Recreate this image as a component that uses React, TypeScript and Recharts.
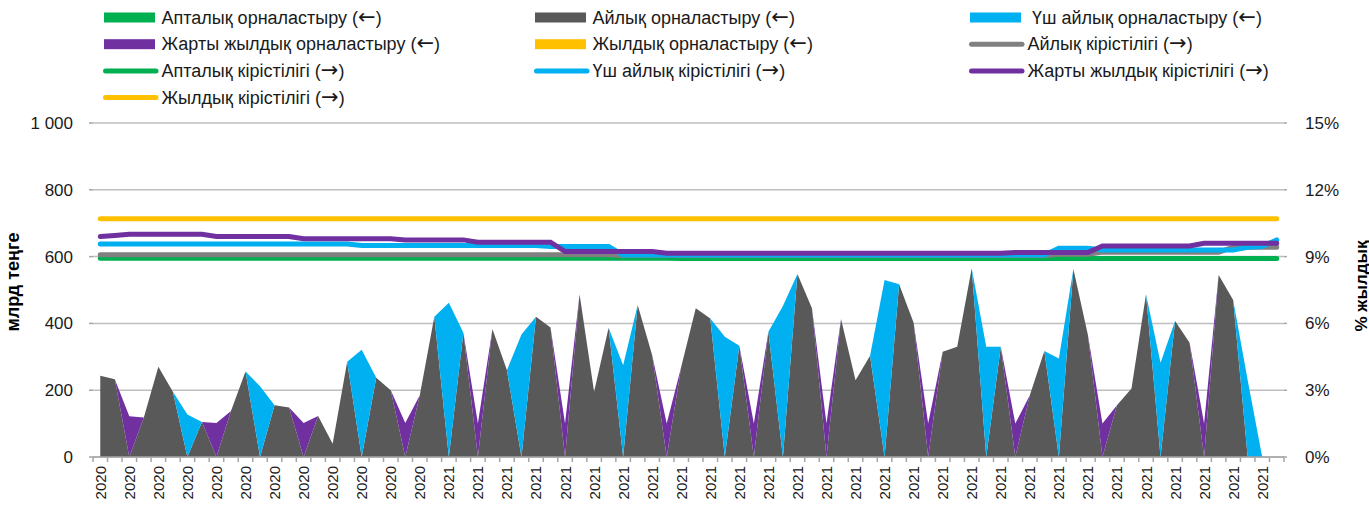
import React from 'react';
import { ComposedChart, Area, Line, XAxis, YAxis, CartesianGrid } from 'recharts';

const FONT = '"Liberation Sans", Arial, sans-serif';

// category labels (one per auction point)
const years = [
  '2020', '2020', '2020', '2020', '2020', '2020', '2020', '2020', '2020', '2020',
  '2020', '2020', '2020', '2020', '2020', '2020', '2020', '2020', '2020', '2020',
  '2020', '2020', '2020', '2020', '2021', '2021', '2021', '2021', '2021', '2021',
  '2021', '2021', '2021', '2021', '2021', '2021', '2021', '2021', '2021', '2021',
  '2021', '2021', '2021', '2021', '2021', '2021', '2021', '2021', '2021', '2021',
  '2021', '2021', '2021', '2021', '2021', '2021', '2021', '2021', '2021', '2021',
  '2021', '2021', '2021', '2021', '2021', '2021', '2021', '2021', '2021', '2021',
  '2021', '2021', '2021', '2021', '2021', '2021', '2021', '2021', '2021', '2021',
  '2021', '2021',
];

// placement volumes, bn tenge (left axis)
const weeklyPlacement = [
  0, 0, 0, 0, 0, 0, 0, 0, 0, 0, 0, 0, 0, 0, 0, 0, 0, 0, 0, 0, 0,
  0, 0, 0, 0, 0, 0, 0, 0, 0, 0, 0, 0, 0, 0, 0, 0, 0, 0, 0, 0,
  0, 0, 0, 0, 0, 0, 0, 0, 0, 0, 0, 0, 0, 0, 0, 0, 0, 0, 0, 0,
  0, 0, 0, 0, 0, 0, 0, 0, 0, 0, 0, 0, 0, 0, 0, 0, 0, 0, 0, 0,
];
const monthlyPlacement = [
  243, 233, 0, 118, 270, 195, 0, 105, 0, 138,
  256, 0, 155, 148, 0, 123, 40, 285, 0, 237,
  200, 0, 185, 420, 0, 372, 0, 383, 260, 0,
  420, 388, 0, 487, 195, 387, 0, 455, 305, 0,
  270, 445, 415, 0, 333, 0, 375, 0, 548, 445,
  0, 413, 230, 303, 0, 517, 402, 0, 315, 330,
  565, 0, 330, 0, 185, 317, 0, 563, 365, 0,
  155, 205, 487, 0, 407, 342, 0, 545, 470, 0,
  0, 0,
];
const threeMonthPlacement = [
  0, 0, 0, 0, 0, 0, 127, 0, 0, 0,
  0, 212, 0, 0, 0, 0, 0, 0, 321, 0,
  0, 0, 0, 0, 462, 0, 0, 0, 0, 367,
  0, 0, 0, 0, 0, 0, 275, 0, 0, 0,
  0, 0, 0, 360, 0, 0, 0, 452, 0, 0,
  0, 0, 0, 0, 530, 0, 0, 0, 0, 0,
  0, 330, 0, 0, 0, 0, 295, 0, 0, 0,
  0, 0, 0, 282, 0, 0, 0, 0, 0, 230,
  0, 0,
];
const halfYearPlacement = [
  0, 0, 122, 0, 0, 0, 0, 0, 102, 0,
  0, 0, 0, 0, 102, 0, 0, 0, 0, 0,
  0, 102, 0, 0, 0, 0, 100, 0, 0, 0,
  0, 0, 100, 0, 0, 0, 0, 0, 0, 100,
  0, 0, 0, 0, 0, 100, 0, 0, 0, 0,
  100, 0, 0, 0, 0, 0, 0, 100, 0, 0,
  0, 0, 0, 100, 0, 0, 0, 0, 0, 100,
  0, 0, 0, 0, 0, 0, 100, 0, 0, 0,
  0, 0,
];
const annualPlacement = [
  0, 0, 0, 0, 0, 0, 0, 0, 0, 0, 0, 0, 0, 0, 0, 0, 0, 0, 0, 0, 0,
  0, 0, 0, 0, 0, 0, 0, 0, 0, 0, 0, 0, 0, 0, 0, 0, 0, 0, 0, 0,
  0, 0, 0, 0, 0, 0, 0, 0, 0, 0, 0, 0, 0, 0, 0, 0, 0, 0, 0, 0,
  0, 0, 0, 0, 0, 0, 0, 0, 0, 0, 0, 0, 0, 0, 0, 0, 0, 0, 0, 0,
];

// yields, % (right axis)
const weeklyYield = [
  8.93, 8.93, 8.93, 8.93, 8.93, 8.93, 8.93, 8.93, 8.93, 8.93,
  8.93, 8.93, 8.93, 8.93, 8.93, 8.93, 8.93, 8.93, 8.93, 8.93,
  8.93, 8.93, 8.93, 8.93, 8.93, 8.93, 8.93, 8.93, 8.93, 8.93,
  8.93, 8.93, 8.93, 8.93, 8.93, 8.93, 8.93, 8.93, 8.93, 8.93,
  8.92, 8.92, 8.92, 8.92, 8.92, 8.92, 8.92, 8.92, 8.92, 8.92,
  8.92, 8.92, 8.92, 8.92, 8.92, 8.92, 8.92, 8.92, 8.92, 8.92,
  8.92, 8.92, 8.92, 8.92, 8.92, 8.92, 8.92, 8.92, 8.92, 8.92,
  8.92, 8.92, 8.92, 8.92, 8.92, 8.92, 8.92, 8.92, 8.92, 8.92,
  8.92, 8.92,
];
const monthlyYield = [
  9.08, 9.08, 9.08, 9.08, 9.08, 9.08, 9.08, 9.08, 9.08, 9.08,
  9.08, 9.08, 9.08, 9.08, 9.08, 9.08, 9.08, 9.08, 9.08, 9.08,
  9.08, 9.08, 9.08, 9.08, 9.08, 9.08, 9.08, 9.08, 9.08, 9.08,
  9.08, 9.08, 9.08, 9.08, 9.08, 9.08, 9.05, 9.05, 9.05, 9.05,
  9.05, 9.05, 9.05, 9.05, 9.05, 9.05, 9.05, 9.05, 9.05, 9.05,
  9.05, 9.05, 9.05, 9.05, 9.05, 9.05, 9.05, 9.05, 9.05, 9.05,
  9.05, 9.05, 9.05, 9.05, 9.05, 9.05, 9.1, 9.1, 9.1, 9.2,
  9.2, 9.2, 9.2, 9.2, 9.2, 9.2, 9.2, 9.2, 9.42, 9.42,
  9.42, 9.42,
];
const threeMonthYield = [
  9.57, 9.57, 9.57, 9.57, 9.57, 9.57, 9.57, 9.57, 9.57, 9.57,
  9.57, 9.57, 9.57, 9.57, 9.57, 9.57, 9.57, 9.57, 9.5, 9.5,
  9.5, 9.5, 9.5, 9.5, 9.5, 9.5, 9.5, 9.5, 9.5, 9.5,
  9.5, 9.45, 9.45, 9.45, 9.45, 9.45, 9.07, 9.07, 9.07, 9.07,
  9.07, 9.07, 9.07, 9.07, 9.07, 9.07, 9.07, 9.07, 9.07, 9.07,
  9.07, 9.07, 9.07, 9.07, 9.07, 9.07, 9.07, 9.07, 9.07, 9.07,
  9.07, 9.07, 9.07, 9.07, 9.07, 9.07, 9.38, 9.38, 9.38, 9.3,
  9.3, 9.3, 9.3, 9.3, 9.3, 9.3, 9.3, 9.3, 9.3, 9.42,
  9.45, 9.75,
];
const halfYearYield = [
  9.9, 9.95, 10.0, 10.0, 10.0, 10.0, 10.0, 10.0, 9.9, 9.9,
  9.9, 9.9, 9.9, 9.9, 9.8, 9.8, 9.8, 9.8, 9.8, 9.8,
  9.8, 9.75, 9.75, 9.75, 9.75, 9.75, 9.65, 9.65, 9.65, 9.65,
  9.65, 9.65, 9.23, 9.23, 9.23, 9.23, 9.23, 9.23, 9.23, 9.15,
  9.15, 9.15, 9.15, 9.15, 9.15, 9.15, 9.15, 9.15, 9.15, 9.15,
  9.15, 9.15, 9.15, 9.15, 9.15, 9.15, 9.15, 9.15, 9.15, 9.15,
  9.15, 9.15, 9.15, 9.18, 9.18, 9.18, 9.18, 9.18, 9.18, 9.48,
  9.48, 9.48, 9.48, 9.48, 9.48, 9.48, 9.6, 9.6, 9.6, 9.6,
  9.6, 9.6,
];
const annualYield = [
  10.7, 10.7, 10.7, 10.7, 10.7, 10.7, 10.7, 10.7, 10.7, 10.7,
  10.7, 10.7, 10.7, 10.7, 10.7, 10.7, 10.7, 10.7, 10.7, 10.7,
  10.7, 10.7, 10.7, 10.7, 10.7, 10.7, 10.7, 10.7, 10.7, 10.7,
  10.7, 10.7, 10.7, 10.7, 10.7, 10.7, 10.7, 10.7, 10.7, 10.7,
  10.7, 10.7, 10.7, 10.7, 10.7, 10.7, 10.7, 10.7, 10.7, 10.7,
  10.7, 10.7, 10.7, 10.7, 10.7, 10.7, 10.7, 10.7, 10.7, 10.7,
  10.7, 10.7, 10.7, 10.7, 10.7, 10.7, 10.7, 10.7, 10.7, 10.7,
  10.7, 10.7, 10.7, 10.7, 10.7, 10.7, 10.7, 10.7, 10.7, 10.7,
  10.7, 10.7,
];

const leftTicks = [0, 200, 400, 600, 800, 1000];
const rightTicks = [0, 3, 6, 9, 12, 15];

const data = years.map((year, i) => ({
  year,
  wkP: weeklyPlacement[i],
  moP: monthlyPlacement[i],
  q3P: threeMonthPlacement[i],
  hyP: halfYearPlacement[i],
  anP: annualPlacement[i],
  wkY: weeklyYield[i],
  moY: monthlyYield[i],
  q3Y: threeMonthYield[i],
  hyY: halfYearYield[i],
  anY: annualYield[i],
}));

const W = 1369;
const H = 506;
const LEFT_W = 93;
const RIGHT_W = 85;
const PLOT_W = W - LEFT_W - RIGHT_W;
const HALF = PLOT_W / years.length / 2;

const GREEN = '#00B050';
const DARK = '#595959';
const GREY = '#808080';
const CYAN = '#00B0F0';
const PURPLE = '#7030A0';
const YELLOW = '#FFC000';
const AXIS = '#A6A6A6';

const fmtThousands = (v: number) => String(v).replace(/\B(?=(\d{3})+(?!\d))/g, ' ');

const XTick = (props: any) => {
  const { x, y, index } = props;
  const ty = y + 9;
  return (
    <g>
      <line x1={x - HALF} x2={x - HALF} y1={y} y2={y + 5} stroke={AXIS} strokeWidth={1.5} />
      {index === years.length - 1 && (
        <line x1={x + HALF} x2={x + HALF} y1={y} y2={y + 5} stroke={AXIS} strokeWidth={1.5} />
      )}
      {index % 2 === 0 && (
        <text
          x={x}
          y={ty}
          transform={`rotate(-90 ${x} ${ty})`}
          textAnchor="end"
          dominantBaseline="central"
          fontSize={15}
          fontFamily={FONT}
          fill="#1a1a1a"
        >
          {years[index]}
        </text>
      )}
    </g>
  );
};

// legend: label text, arrow (axis side), colour, marker kind
const legendItems = [
  { label: 'Апталық орналастыру', arrow: '←', color: GREEN, kind: 'rect' },
  { label: 'Айлық орналастыру', arrow: '←', color: DARK, kind: 'rect' },
  { label: 'Үш айлық орналастыру', arrow: '←', color: CYAN, kind: 'rect' },
  { label: 'Жарты жылдық орналастыру', arrow: '←', color: PURPLE, kind: 'rect' },
  { label: 'Жылдық орналастыру', arrow: '←', color: YELLOW, kind: 'rect' },
  { label: 'Айлық кірістілігі', arrow: '→', color: GREY, kind: 'line' },
  { label: 'Апталық кірістілігі', arrow: '→', color: GREEN, kind: 'line' },
  { label: 'Үш айлық кірістілігі', arrow: '→', color: CYAN, kind: 'line' },
  { label: 'Жарты жылдық кірістілігі', arrow: '→', color: PURPLE, kind: 'line' },
  { label: 'Жылдық кірістілігі', arrow: '→', color: YELLOW, kind: 'line' },
];
const colX = [0, 431, 866];

function Overlay() {
  return (
    <svg width={W} height={H} style={{ position: 'absolute', left: 0, top: 0, pointerEvents: 'none' }}>
      {legendItems.map((it, i) => {
        const col = i % 3;
        const row = Math.floor(i / 3);
        const bx = colX[col];
        const cy = 17.5 + row * 26.7;
        const tx = bx + (i === 2 ? 166 : 161.5);
        return (
          <g key={it.label}>
            {it.kind === 'rect' ? (
              <rect x={bx + 104} y={cy - 5} width={51} height={10} fill={it.color} />
            ) : (
              <line x1={bx + 105.5} x2={bx + 156} y1={cy} y2={cy} stroke={it.color} strokeWidth={5} strokeLinecap="round" />
            )}
            <text x={tx} y={cy + 6} fontSize={18} fontFamily={FONT} fill="#1a1a1a">
              {it.label} (
              <tspan fontFamily='"DejaVu Sans", sans-serif' fontSize={21}>
                {it.arrow}
              </tspan>
              )
            </text>
          </g>
        );
      })}
      <text
        transform="translate(13,282) rotate(-90)"
        textAnchor="middle"
        dominantBaseline="central"
        fontSize={18}
        fontWeight="bold"
        fontFamily={FONT}
        fill="#000"
      >
        млрд теңге
      </text>
      <text
        transform="translate(1361,286) rotate(-90)"
        textAnchor="middle"
        dominantBaseline="central"
        fontSize={17}
        fontWeight="bold"
        fontFamily={FONT}
        fill="#000"
      >
        % жылдық
      </text>
    </svg>
  );
}

export default function App() {
  return (
    <div style={{ position: 'absolute', left: 0, top: 0, width: W, height: H, background: '#fff' }}>
      <ComposedChart width={W} height={H} data={data} margin={{ top: 123, right: 0, bottom: 0, left: 0 }}>
        <CartesianGrid yAxisId="left" vertical={false} stroke="#BFBFBF" strokeWidth={1.5} />
        <XAxis
          dataKey="year"
          interval={0}
          height={49}
          tickLine={false}
          tickSize={0}
          tickMargin={0}
          padding={{ left: HALF, right: HALF }}
          axisLine={{ stroke: AXIS, strokeWidth: 1.5 }}
          tick={<XTick />}
        />
        <YAxis
          yAxisId="left"
          width={LEFT_W}
          domain={[0, 1000]}
          ticks={leftTicks}
          axisLine={false}
          tickLine={{ stroke: AXIS, strokeWidth: 1.5 }}
          tickSize={4}
          tickMargin={16}
          tickFormatter={fmtThousands}
          tick={{ fill: '#1a1a1a', fontSize: 17, fontFamily: FONT }}
        />
        <YAxis
          yAxisId="right"
          orientation="right"
          width={RIGHT_W}
          domain={[0, 15]}
          ticks={rightTicks}
          axisLine={false}
          tickLine={{ stroke: AXIS, strokeWidth: 1.5 }}
          tickSize={3}
          tickMargin={18}
          tickFormatter={(v: number) => `${v}%`}
          tick={{ fill: '#1a1a1a', fontSize: 17, fontFamily: FONT }}
        />
        <Area yAxisId="left" stackId="pl" type="linear" dataKey="wkP" fill={GREEN} fillOpacity={1} stroke="none" isAnimationActive={false} />
        <Area yAxisId="left" stackId="pl" type="linear" dataKey="moP" fill={DARK} fillOpacity={1} stroke="none" isAnimationActive={false} />
        <Area yAxisId="left" stackId="pl" type="linear" dataKey="q3P" fill={CYAN} fillOpacity={1} stroke="none" isAnimationActive={false} />
        <Area yAxisId="left" stackId="pl" type="linear" dataKey="hyP" fill={PURPLE} fillOpacity={1} stroke="none" isAnimationActive={false} />
        <Area yAxisId="left" stackId="pl" type="linear" dataKey="anP" fill={YELLOW} fillOpacity={1} stroke="none" isAnimationActive={false} />
        <Line yAxisId="right" type="linear" dataKey="wkY" stroke={GREEN} strokeWidth={5} strokeLinecap="round" dot={false} activeDot={false} isAnimationActive={false} />
        <Line yAxisId="right" type="linear" dataKey="moY" stroke={GREY} strokeWidth={5} strokeLinecap="round" dot={false} activeDot={false} isAnimationActive={false} />
        <Line yAxisId="right" type="linear" dataKey="q3Y" stroke={CYAN} strokeWidth={5} strokeLinecap="round" dot={false} activeDot={false} isAnimationActive={false} />
        <Line yAxisId="right" type="linear" dataKey="hyY" stroke={PURPLE} strokeWidth={5} strokeLinecap="round" dot={false} activeDot={false} isAnimationActive={false} />
        <Line yAxisId="right" type="linear" dataKey="anY" stroke={YELLOW} strokeWidth={5} strokeLinecap="round" dot={false} activeDot={false} isAnimationActive={false} />
      </ComposedChart>
      <Overlay />
    </div>
  );
}
